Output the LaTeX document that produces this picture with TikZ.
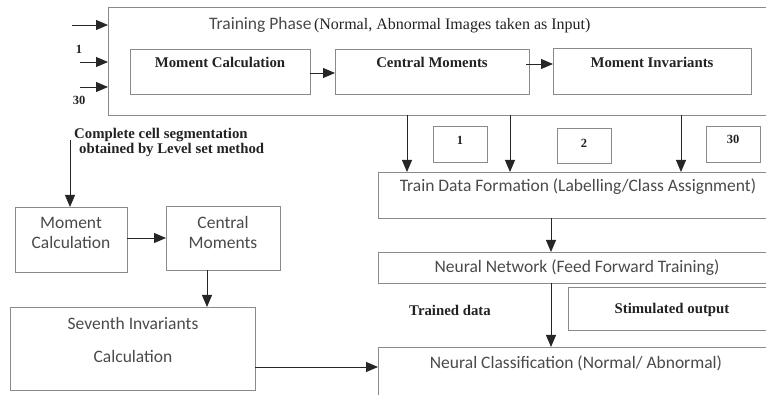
\documentclass[tikz,border=0pt]{standalone}
\usepackage{fontspec}
\setmainfont{Liberation Serif}
\newfontfamily\calfont{Carlito}
\usetikzlibrary{arrows.meta}
\definecolor{boxgray}{HTML}{8A8A8A}
\definecolor{sanstext}{HTML}{4A4A4A}
\definecolor{seriftext}{HTML}{222222}
\tikzset{
  box/.style={draw=boxgray, line width=0.9pt, anchor=north west, inner sep=0pt, outer sep=0pt},
  arr/.style={draw=black!85, line width=0.8pt, -{Triangle[length=12pt,width=10pt]}},
  sans/.style={font=\calfont\fontsize{17.5}{20}\selectfont, text=sanstext, inner sep=0pt},
  serif/.style={font=\bfseries\fontsize{14.8}{17}\selectfont, text=seriftext, inner sep=0pt},
  num/.style={font=\bfseries\fontsize{12.5}{15}\selectfont, text=seriftext, inner sep=0pt},
}
\begin{document}
\begin{tikzpicture}[x=1pt,y=-1pt]
\useasboundingbox (0,0) rectangle (766,395);
\clip (0,0) rectangle (766,395);
% boxes
\node[box, minimum width=700, minimum height=108] (top) at (108,7) {};
\node[box, minimum width=180, minimum height=45] (mct) at (130,49) {};
\node[box, minimum width=194, minimum height=45] (cmt) at (335,49) {};
\node[box, minimum width=198, minimum height=46] (mit) at (553,48) {};
\node[box, minimum width=54, minimum height=36] (b1) at (433,126) {};
\node[box, minimum width=54, minimum height=35] (b2) at (557,128) {};
\node[box, minimum width=54, minimum height=36] (b30) at (706,126) {};
\node[box, minimum width=430, minimum height=46] (tdf) at (378,172) {};
\node[box, minimum width=430, minimum height=31] (nn) at (378,252) {};
\node[box, minimum width=240, minimum height=43] (so) at (568,287) {};
\node[box, minimum width=430, minimum height=80] (nc) at (378,347) {};
\node[box, minimum width=112, minimum height=65] (mcl) at (15,207) {};
\node[box, minimum width=114, minimum height=64] (cml) at (166,206) {};
\node[box, minimum width=245, minimum height=83] (sic) at (10,307) {};
% texts
\node[anchor=west, inner sep=0pt] (title) at (209,25) {{\calfont\fontsize{17.5}{20}\selectfont\color{sanstext}Training Phase} {\fontsize{16}{19}\selectfont\color{seriftext}(Normal, Abnormal Images taken as Input)}};
\node[serif] (tmct) at (220,62) {Moment Calculation};
\node[serif] (tcmt) at (432,62) {Central Moments};
\node[serif] (tmit) at (652,62) {Moment Invariants};
\node[num] (t1) at (460,140) {1};
\node[num] (t2) at (584,143) {2};
\node[num] (t30) at (733,139) {30};
\node[num] (in1) at (79,49) {1};
\node[num] (in30) at (79,100) {30};
\node[sans] (ttdf) at (578,187) {Train Data Formation (Labelling/Class Assignment)};
\node[sans] (tnn) at (577,268) {Neural Network (Feed Forward Training)};
\node[serif] (ttd) at (450,310) {Trained data};
\node[serif] (tso) at (672,310) {Stimulated output};
\node[sans] (tnc) at (576,363) {Neural Classification (Normal/ Abnormal)};
\node[serif, anchor=west] (seg1) at (74,135) {Complete cell segmentation};
\node[serif, anchor=west] (seg2) at (79,150) {obtained by Level set method};
\node[sans, align=center] (tmcl) at (71,233) {Moment\\Calculation};
\node[sans, align=center] (tcml) at (223,232) {Central\\Moments};
\node[sans] (tsic1) at (133,323) {Seventh Invariants};
\node[sans] (tsic2) at (133,356) {Calculation};
% connector coordinates
\coordinate (s1) at (72,25);
\coordinate (s2) at (80,62);
\coordinate (s3) at (80,87);
\coordinate (v1) at (407,115);
\coordinate (v2) at (510,115);
\coordinate (v3) at (681,115);
\coordinate (cmo) at (526,64);
\coordinate (segs) at (70,140);
\coordinate (cmls) at (207,270);
\coordinate (sics) at (255,367);
\coordinate (tdfs) at (551,218);
\coordinate (nns) at (551,283);
% connectors
\draw[arr] (s1) -- (s1 -| top.west);
\draw[arr] (s2) -- (s2 -| top.west);
\draw[arr] (s3) -- (s3 -| top.west);
\draw[arr] (mct.east |- 0,73) -- (cmt.west |- 0,73);
\draw[arr] (cmo) -- (cmo -| mit.west);
\draw[arr] (v1) -- (v1 |- tdf.north);
\draw[arr] (v2) -- (v2 |- tdf.north);
\draw[arr] (v3) -- (v3 |- tdf.north);
\draw[arr] (tdfs) -- (tdfs |- nn.north);
\draw[arr] (nns) -- (nns |- nc.north);
\draw[arr] (segs) -- (segs |- mcl.north);
\draw[arr] (mcl.east |- 0,238) -- (cml.west |- 0,238);
\draw[arr] (cmls) -- (cmls |- sic.north);
\draw[arr] (sics) -- (sics -| nc.west);
\end{tikzpicture}
\end{document}
